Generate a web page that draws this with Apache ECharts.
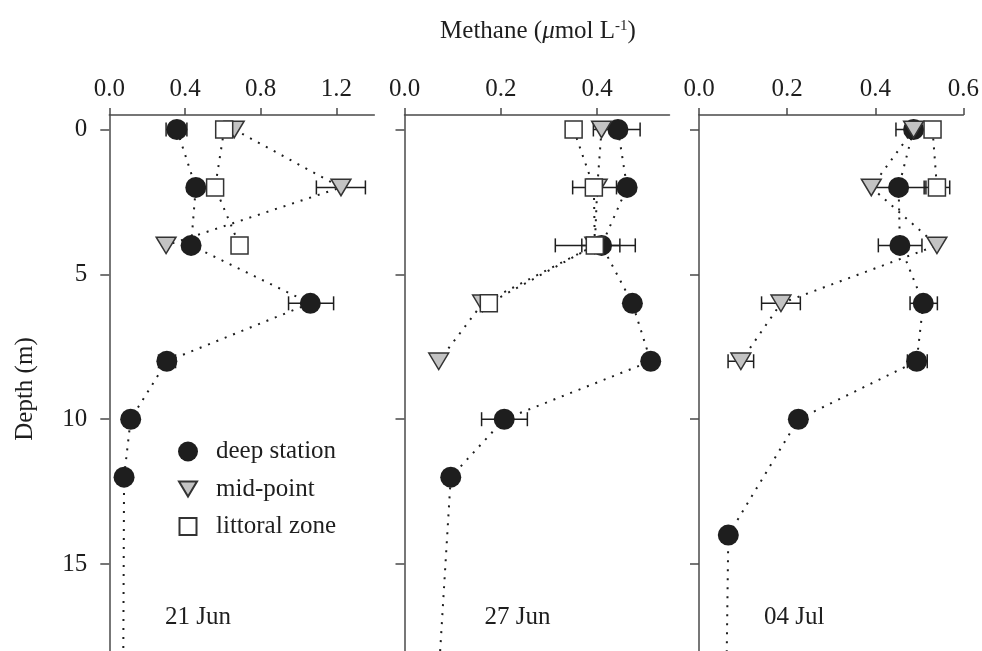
<!DOCTYPE html>
<html>
<head>
<meta charset="utf-8">
<script src="https://cdn.jsdelivr.net/npm/echarts@6/dist/echarts.min.js"></script>
<style>
html,body{margin:0;padding:0;background:#fff;}
#chart{width:982px;height:651px;}
</style>
</head>
<body>
<div id="chart"></div>
<script>
// ---------- data ----------
const panelDates = ['21 Jun', '27 Jun', '04 Jul'];
const seriesNames = ['deep station', 'mid-point', 'littoral zone'];
const depthTicks = [0, 5, 10, 15];
const tailDepth = 18;
const xTicks = [[0, 0.4, 0.8, 1.2], [0, 0.2, 0.4], [0, 0.2, 0.4, 0.6]];
const xMax = [1.4, 0.55, 0.6];

// 21 Jun
const deepDepth21 = [0, 2, 4, 6, 8, 10, 12];
const deep21 = [0.357, 0.457, 0.432, 1.062, 0.304, 0.113, 0.078];
const deepTail21 = 0.074;
const midDepth21 = [0, 2, 4];
const mid21 = [0.66, 1.224, 0.30];
const litDepth21 = [0, 2, 4];
const lit21 = [0.607, 0.559, 0.688];
const deepErr21 = [[0.30, 0.41, 0], [0.947, 1.185, 6], [0.26, 0.35, 8]];
const midErr21 = [[1.094, 1.353, 2]];
const litErr21 = [];

// 27 Jun
const deepDepth27 = [0, 2, 4, 6, 8, 10, 12];
const deep27 = [0.443, 0.462, 0.409, 0.473, 0.511, 0.207, 0.096];
const deepTail27 = 0.074;
const midDepth27 = [0, 2, 4, 6, 8];
const mid27 = [0.409, 0.40, 0.395, 0.162, 0.071];
const litDepth27 = [0, 2, 4, 6];
const lit27 = [0.351, 0.393, 0.395, 0.175];
const deepErr27 = [[0.392, 0.489, 0], [0.368, 0.447, 4], [0.16, 0.255, 10]];
const midErr27 = [];
const litErr27 = [[0.349, 0.44, 2], [0.313, 0.479, 4]];

// 04 Jul
const deepDepth04 = [0, 2, 4, 6, 8, 10, 14];
const deep04 = [0.487, 0.453, 0.456, 0.509, 0.494, 0.2255, 0.0665];
const deepTail04 = 0.063;
const midDepth04 = [0, 2, 4, 6, 8];
const mid04 = [0.487, 0.391, 0.54, 0.186, 0.095];
const litDepth04 = [0, 2];
const lit04 = [0.53, 0.54];
const deepErr04 = [[0.447, 0.527, 0], [0.391, 0.515, 2], [0.407, 0.506, 4], [0.479, 0.541, 6], [0.473, 0.518, 8]];
const midErr04 = [[0.142, 0.23, 6], [0.066, 0.124, 8]];
const litErr04 = [[0.511, 0.569, 2]];

// ---------- build ----------
const panels = [
  {deepD: deepDepth21, deep: deep21, tail: deepTail21, midD: midDepth21, mid: mid21, litD: litDepth21, lit: lit21, errs: [deepErr21, midErr21, litErr21]},
  {deepD: deepDepth27, deep: deep27, tail: deepTail27, midD: midDepth27, mid: mid27, litD: litDepth27, lit: lit27, errs: [deepErr27, midErr27, litErr27]},
  {deepD: deepDepth04, deep: deep04, tail: deepTail04, midD: midDepth04, mid: mid04, litD: litDepth04, lit: lit04, errs: [deepErr04, midErr04, litErr04]}
];

const FONT = "'Liberation Serif', 'Times New Roman', serif";
const FS = 25;
const INK = '#1e1e1e';
const AXIS = '#4a4a4a';
const gridLefts = [109.3, 404.5, 699];

const TRI = 'path://M1,2.5L19,2.5L10,17.5Z M0,0L0,0 M20,20L20,20';
const SQR = 'path://M1.5,1.5L18.5,1.5L18.5,18.5L1.5,18.5Z M0,0L0,0 M20,20L20,20';

function zip(vals, depths) { return vals.map((v, i) => [v, depths[i]]); }

function renderErr(params, api) {
  const lo = api.coord([api.value(0), api.value(2)]);
  const hi = api.coord([api.value(1), api.value(2)]);
  const h = 7;
  const st = {stroke: INK, lineWidth: 1.5};
  return {type: 'group', children: [
    {type: 'line', shape: {x1: lo[0], y1: lo[1], x2: hi[0], y2: hi[1]}, style: st},
    {type: 'line', shape: {x1: lo[0], y1: lo[1] - h, x2: lo[0], y2: lo[1] + h}, style: st},
    {type: 'line', shape: {x1: hi[0], y1: hi[1] - h, x2: hi[0], y2: hi[1] + h}, style: st}
  ]};
}

const grid = [], xAxis = [], yAxis = [], series = [];
panels.forEach((p, k) => {
  grid.push({left: gridLefts[k], top: 115, width: 265, height: 540, containLabel: false});
  xAxis.push({
    type: 'value', gridIndex: k, position: 'top', min: 0, max: xMax[k],
    splitLine: {show: false},
    axisLine: {show: true, onZero: false, lineStyle: {color: AXIS, width: 1.5}},
    axisTick: {show: true, length: 7, customValues: xTicks[k], lineStyle: {color: AXIS, width: 1.5}},
    axisLabel: {show: true, margin: 13, fontSize: FS, fontFamily: FONT, color: INK,
      customValues: xTicks[k], formatter: v => Number(v).toFixed(1)}
  });
  yAxis.push({
    type: 'value', gridIndex: k, inverse: true, min: -0.5, max: 18,
    splitLine: {show: false},
    axisLine: {show: true, onZero: false, lineStyle: {color: AXIS, width: 1.5}},
    axisTick: {show: true, length: 9, customValues: depthTicks, lineStyle: {color: AXIS, width: 1.5}},
    axisLabel: {show: k === 0, margin: 22, fontSize: FS, fontFamily: FONT, color: INK, customValues: depthTicks}
  });

  const dot = {color: INK, width: 2, type: [2, 7]};
  const deepLine = zip(p.deep, p.deepD).concat([[p.tail, tailDepth]]);
  [deepLine, zip(p.mid, p.midD), zip(p.lit, p.litD)].forEach(d => {
    series.push({type: 'line', xAxisIndex: k, yAxisIndex: k, data: d, symbol: 'none',
      lineStyle: dot, silent: true, z: 2, animation: false});
  });
  p.errs.forEach(e => {
    if (e.length) series.push({type: 'custom', xAxisIndex: k, yAxisIndex: k, data: e,
      encode: {x: [0, 1], y: 2}, renderItem: renderErr, silent: true, z: 3, animation: false});
  });
  series.push({name: seriesNames[0], type: 'scatter', xAxisIndex: k, yAxisIndex: k,
    data: zip(p.deep, p.deepD), symbol: 'circle', symbolSize: 21,
    itemStyle: {color: INK, borderColor: INK, borderWidth: 0, opacity: 1}, z: 5, animation: false});
  series.push({name: seriesNames[1], type: 'scatter', xAxisIndex: k, yAxisIndex: k,
    data: zip(p.mid, p.midD), symbol: TRI, symbolSize: 22,
    itemStyle: {color: '#c3c3c3', borderColor: '#333', borderWidth: 1.5, opacity: 1}, z: 6, animation: false});
  series.push({name: seriesNames[2], type: 'scatter', xAxisIndex: k, yAxisIndex: k,
    data: zip(p.lit, p.litD), symbol: SQR, symbolSize: 20,
    itemStyle: {color: '#ffffff', borderColor: '#333', borderWidth: 1.5, opacity: 1}, z: 7, animation: false});
});

const dateX = [165, 484.5, 764];
const graphics = panelDates.map((t, i) => ({
  type: 'text', x: dateX[i], y: 617,
  style: {text: t, font: FS + 'px ' + FONT, fill: INK, align: 'left', verticalAlign: 'middle'}
}));
graphics.push({
  type: 'text', x: 538, y: 31,
  style: {
    text: '{a|Methane (}{i|μ}{a|mol L}{s|-1}{a|)}',
    align: 'center', verticalAlign: 'middle',
    rich: {
      a: {fontSize: FS, fontFamily: FONT, fill: INK, color: INK},
      i: {fontSize: FS, fontFamily: FONT, fontStyle: 'italic', fill: INK, color: INK},
      s: {fontSize: 15, fontFamily: FONT, fill: INK, color: INK, verticalAlign: 'top'}
    }
  }
});
graphics.push({
  type: 'text', x: 25, y: 389, rotation: Math.PI / 2,
  style: {text: 'Depth (m)', font: FS + 'px ' + FONT, fill: INK, align: 'center', verticalAlign: 'middle'}
});

const option = {
  animation: false,
  backgroundColor: '#fff',
  grid, xAxis, yAxis, series,
  legend: {
    data: seriesNames, orient: 'vertical', left: 177, top: 439, padding: 0,
    itemWidth: 46, itemHeight: 20, itemGap: 12.5, selectedMode: false,
    textStyle: {fontSize: FS, fontFamily: FONT, color: INK}
  },
  graphic: graphics
};

const chart = echarts.init(document.getElementById('chart'), null, {renderer: 'canvas'});
chart.setOption(option);
</script>
</body>
</html>
